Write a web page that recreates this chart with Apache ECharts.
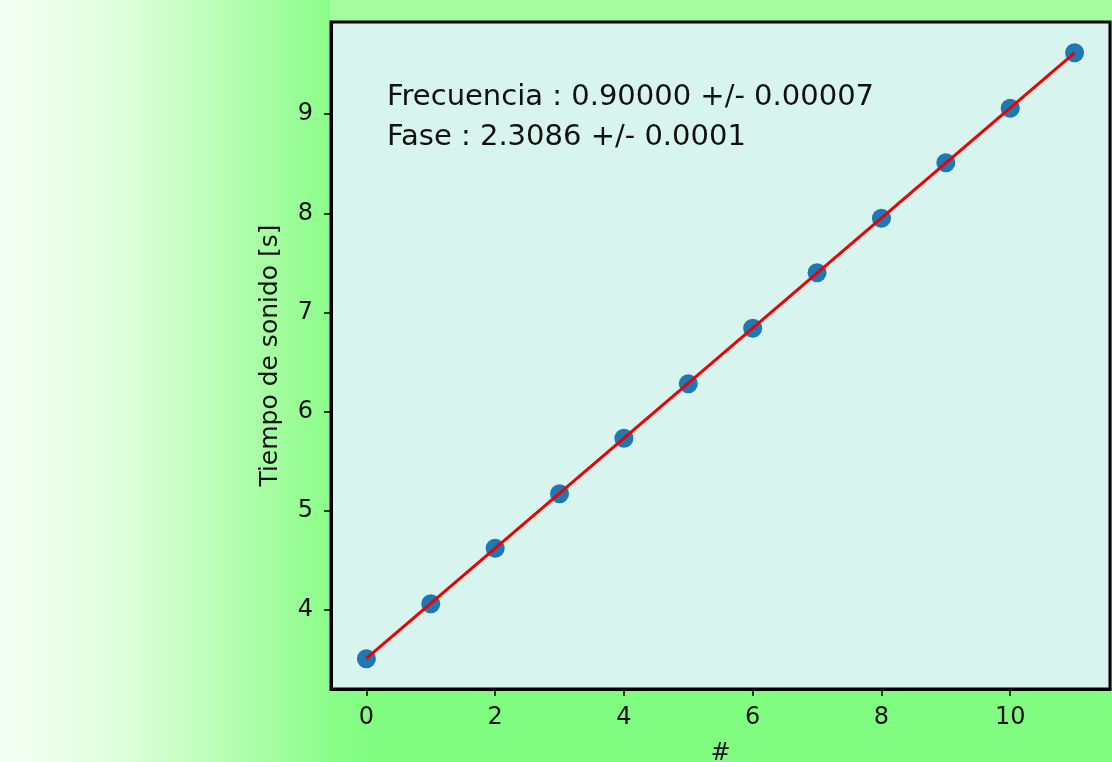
<!DOCTYPE html>
<html>
<head>
<meta charset="utf-8">
<script src="https://cdn.jsdelivr.net/npm/echarts@6/dist/echarts.min.js"></script>
<style>
  html, body { margin: 0; padding: 0; }
  #chart { width: 1112px; height: 762px; }
</style>
</head>
<body>
<div id="chart"></div>
<script>
// medidas: indice de golpe y tiempo en que se oye
const indices = [0, 1, 2, 3, 4, 5, 6, 7, 8, 9, 10, 11];
const tiempos = [3.505, 4.06, 4.62, 5.17, 5.73, 6.28, 6.84, 7.40, 7.95, 8.51, 9.06, 9.62];
// recta ajustada (extremos)
const ajusteX = [0, 11];
const ajusteY = [3.508, 9.619];
const xTicks = [0, 2, 4, 6, 8, 10];
const yTicks = [4, 5, 6, 7, 8, 9];
const textos = ['Frecuencia : 0.90000 +/- 0.00007', 'Fase : 2.3086 +/- 0.0001'];

const font = 'DejaVu Sans';
const chart = echarts.init(document.getElementById('chart'));

const option = {
    backgroundColor: new echarts.graphic.LinearGradient(0, 0, 1, 0, [
        { offset: 0, color: '#f5fff5' },
        { offset: 0.1, color: '#e2ffe0' },
        { offset: 0.18, color: '#c2ffbe' },
        { offset: 0.25, color: '#a2fd9e' },
        { offset: 0.3, color: '#8afd88' },
        { offset: 0.34, color: '#80fd80' },
        { offset: 1, color: '#80fd80' }
    ]),
    animation: false,
    grid: {
        left: 331, right: 2, top: 22, bottom: 73,
        outerBoundsMode: 'none',
        show: true,
        backgroundColor: '#d7f4ee',
        borderColor: '#000',
        borderWidth: 3
    },
    graphic: [
        {
            type: 'rect', left: 330, top: 0, z: -1,
            shape: { width: 782, height: 21 },
            style: { fill: '#a5fca1' }
        },
        {
            type: 'text', left: 387, top: 83,
            style: { text: textos[0], font: '29px "DejaVu Sans"', fill: '#111' }
        },
        {
            type: 'text', left: 387, top: 123,
            style: { text: textos[1], font: '29px "DejaVu Sans"', fill: '#111' }
        }
    ],
    xAxis: {
        type: 'value',
        min: -0.55, max: 11.55,
        name: '#',
        nameLocation: 'middle',
        nameGap: 53,
        nameTextStyle: { fontFamily: font, fontSize: 24, color: '#111' },
        axisLine: { show: true, onZero: false, lineStyle: { color: '#000', width: 3 } },
        axisTick: { show: true, length: 7, customValues: xTicks, lineStyle: { color: '#000', width: 1.5 } },
        axisLabel: { customValues: xTicks, margin: 17, fontFamily: font, fontSize: 24, color: '#111' },
        splitLine: { show: false }
    },
    yAxis: {
        type: 'value',
        min: 3.2, max: 9.93,
        name: 'Tiempo de sonido [s]',
        nameLocation: 'middle',
        nameGap: 48,
        nameTextStyle: { fontFamily: font, fontSize: 25, color: '#111' },
        axisLine: { show: true, onZero: false, lineStyle: { color: '#000', width: 3 } },
        axisTick: { show: true, length: 7, customValues: yTicks, lineStyle: { color: '#000', width: 1.5 } },
        axisLabel: { customValues: yTicks, margin: 18, fontFamily: font, fontSize: 24, color: '#111' },
        splitLine: { show: false }
    },
    series: [
        {
            type: 'scatter',
            data: indices.map((x, i) => [x, tiempos[i]]),
            symbolSize: 19,
            itemStyle: { color: '#1f77b4', opacity: 1 },
            z: 2
        },
        {
            type: 'line',
            data: ajusteX.map((x, i) => [x, ajusteY[i]]),
            showSymbol: false,
            lineStyle: { color: '#ee0000', width: 3 },
            z: 3
        }
    ]
};
chart.setOption(option);
</script>
</body>
</html>
